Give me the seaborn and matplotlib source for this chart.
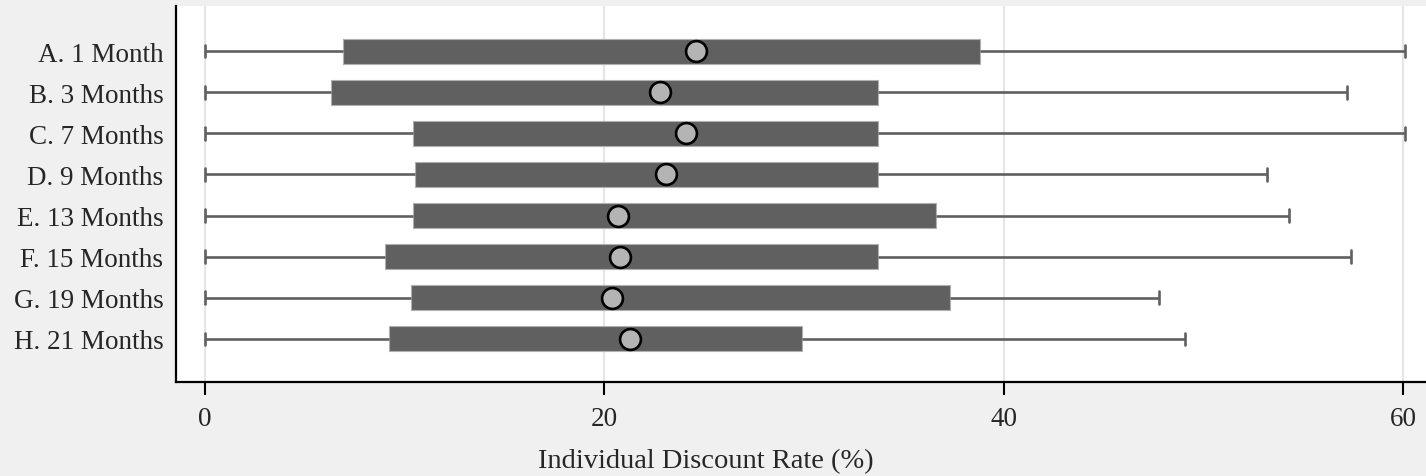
import numpy as np
import pandas as pd
import seaborn as sns
import matplotlib.pyplot as plt

# Individual discount rate by time horizon (box summary + mean marker)
horizons = ['A. 1 Month', 'B. 3 Months', 'C. 7 Months', 'D. 9 Months',
            'E. 13 Months', 'F. 15 Months', 'G. 19 Months', 'H. 21 Months']
low = [0, 0, 0, 0, 0, 0, 0, 0]
q1 = [6.9, 6.3, 10.4, 10.5, 10.4, 9.0, 10.3, 9.2]
q3 = [38.8, 33.7, 33.7, 33.7, 36.6, 33.7, 37.3, 29.9]
high = [60.1, 57.2, 60.1, 53.2, 54.3, 57.4, 47.8, 49.1]
means = [24.6, 22.8, 24.1, 23.1, 20.7, 20.8, 20.4, 21.3]

# five-point table per horizon so seaborn computes the same quartiles
rows = []
for h, lo, a, m, b, hi in zip(horizons, low, q1, means, q3, high):
    for v in (lo, a, m, b, hi):
        rows.append({'Horizon': h, 'Rate': v})
dtf = pd.DataFrame(rows)

sns.set_style('white')
plt.rcParams['font.family'] = ['Liberation Serif', 'DejaVu Serif']

fig = plt.figure(figsize=(14.26, 4.77), dpi=100, facecolor='#f0f0f0')
ax = fig.add_axes([176 / 1426, 94 / 477, 1 - 176 / 1426, 376 / 477])
ax.set_facecolor('white')

sns.boxplot(data=dtf, x='Rate', y='Horizon', order=horizons, orient='h',
            whis=(0, 100), width=0.61, color='#606060', saturation=1,
            linecolor='#606060', linewidth=1.9, fliersize=0,
            medianprops=dict(linewidth=0),
            boxprops=dict(edgecolor='#b0b0b0', linewidth=0.8), ax=ax)

sns.pointplot(x=means, y=horizons, order=horizons, orient='h',
              linestyle='none', markers='o', errorbar=None, color='#b4b4b4',
              markersize=15, markerfacecolor='#b4b4b4',
              markeredgecolor='black', markeredgewidth=1.9, ax=ax)

ax.set_xlim(-1.45, 61.15)
ax.set_ylim(8.05, -1.1)
ax.set_xticks([0, 20, 40, 60])
ax.grid(axis='x', color='#e6e6e6', linewidth=1.6)
ax.grid(axis='y', visible=False)
ax.set_axisbelow(True)

for s in ['top', 'right']:
    ax.spines[s].set_visible(False)
for s in ['left', 'bottom']:
    ax.spines[s].set_color('black')
    ax.spines[s].set_linewidth(1.6)

ax.tick_params(axis='x', length=9, width=1.5, color='black', pad=8,
               labelsize=19.5, bottom=True)
ax.tick_params(axis='y', length=0, pad=9, labelsize=19.5)
ax.set_ylabel(None)
ax.set_xlabel('Individual Discount Rate (%)', fontsize=20.5)
ax.xaxis.set_label_coords((706 - 176) / 1250, -0.21, transform=ax.transAxes)
ax.xaxis.label.set_va('center')

fig.savefig('out.png', dpi=100, facecolor=fig.get_facecolor())
